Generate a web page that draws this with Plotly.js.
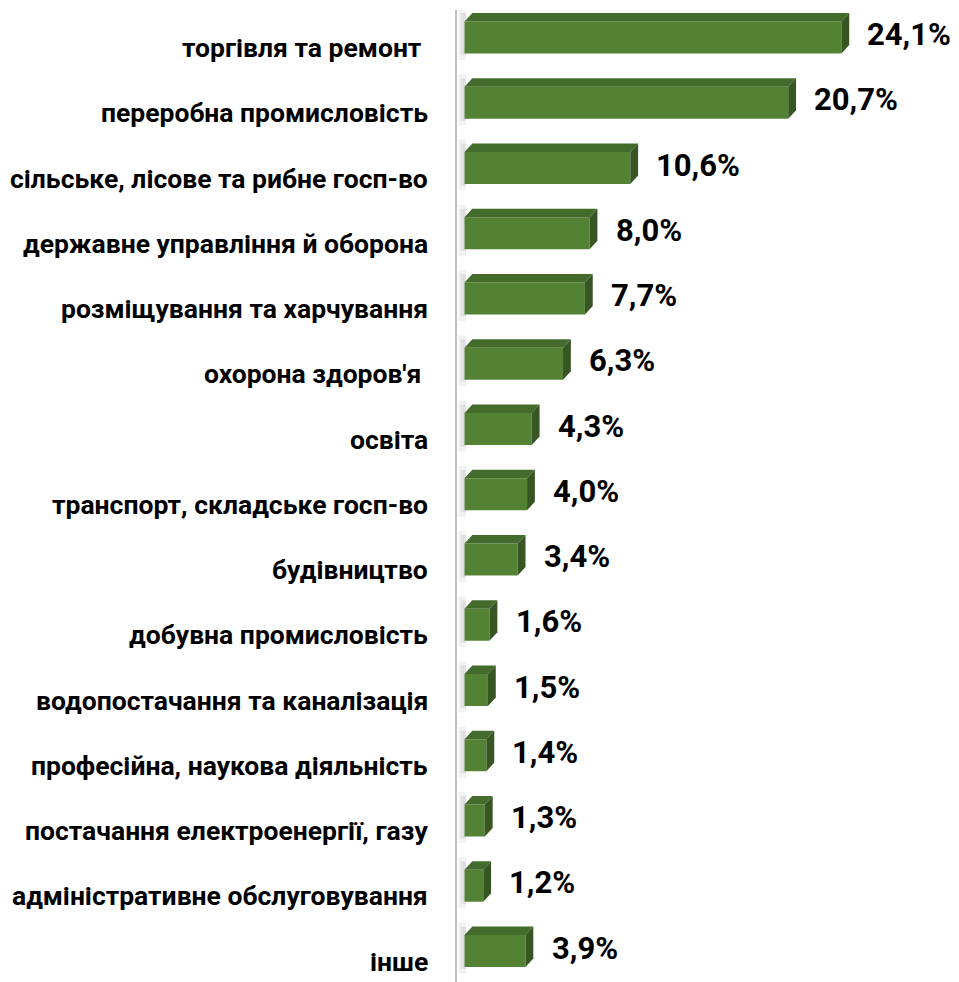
<!DOCTYPE html>
<html>
<head>
<meta charset="utf-8">
<script src="https://cdn.plot.ly/plotly-3.0.1.min.js"></script>
<style>html,body{margin:0;padding:0;background:#fff;}</style>
</head>
<body>
<div id="chart" style="width:959px;height:982px;"></div>
<script>
const categories = [
  "торгівля та ремонт\u00a0",
  "переробна промисловість",
  "сільське, лісове та рибне госп-во",
  "державне управління й оборона",
  "розміщування та харчування",
  "охорона здоров'я\u00a0",
  "освіта",
  "транспорт, складське госп-во",
  "будівництво",
  "добувна промисловість",
  "водопостачання та каналізація",
  "професійна, наукова діяльність",
  "постачання електроенергії, газу",
  "адміністративне обслуговування",
  "інше"
];
const values = [24.1, 20.7, 10.6, 8.0, 7.7, 6.3, 4.3, 4.0, 3.4, 1.6, 1.5, 1.4, 1.3, 1.2, 3.9];

const FRONT = '#548235', TOP = '#436b2b', SIDE = '#375623';
const BW = 0.49;      // bar thickness (category units)
const DX = 0.5;       // 3D depth along x (value units)
const DY = 0.13;      // 3D depth along y (category units)

const idx = categories.map((c, i) => i);

const shapes = [];
values.forEach((v, i) => {
  const t = i - BW / 2, b = i + BW / 2;
  // soft shadow to the left
  shapes.push({type:'rect', layer:'below', xref:'x', yref:'y', x0:-0.4, x1:0.1, y0:t - DY - 0.06, y1:b + 0.1,
    line:{width:0}, fillcolor:'rgba(0,0,0,0.05)'});
  shapes.push({type:'rect', layer:'below', xref:'x', yref:'y', x0:-0.25, x1:0.1, y0:t - DY, y1:b + 0.03,
    line:{width:0}, fillcolor:'rgba(0,0,0,0.07)'});
  // top face
  shapes.push({type:'path', xref:'x', yref:'y', line:{width:0}, fillcolor:TOP,
    path:`M0,${t} L${v},${t} L${v + DX},${t - DY} L${DX},${t - DY} Z`});
  // side face
  shapes.push({type:'path', xref:'x', yref:'y', line:{width:0}, fillcolor:SIDE,
    path:`M${v},${t} L${v + DX},${t - DY} L${v + DX},${b - DY} L${v},${b} Z`});
});

const annotations = [];
categories.forEach((c, i) => {
  annotations.push({xref:'paper', yref:'y', x:0, y:i, xanchor:'right', yanchor:'middle',
    xshift:-27, yshift:-10, showarrow:false, text:c,
    font:{family:'Roboto, sans-serif', size:26.5, color:'#000', weight:700}});
  annotations.push({xref:'x', yref:'y', x:values[i], y:i, xanchor:'left', yanchor:'middle',
    xshift:24, yshift:3, showarrow:false, text:values[i].toFixed(1).replace('.', ',') + '%',
    font:{family:'Roboto, sans-serif', size:31, color:'#000', weight:700}});
});

const trace = {
  type:'bar', orientation:'h', x:values, y:idx, width:BW,
  marker:{color:FRONT, line:{width:0}}, hoverinfo:'skip'
};

const layout = {
  width:959, height:982,
  margin:{l:457, r:0, t:10, b:0, pad:0},
  paper_bgcolor:'#fff', plot_bgcolor:'#fff',
  showlegend:false,
  xaxis:{range:[-0.48, 31.62], visible:false, showgrid:false, zeroline:false, fixedrange:true},
  yaxis:{range:[14.475, -0.4215], showgrid:false, zeroline:false, showticklabels:false, ticks:'',
    showline:true, linecolor:'#bfbfbf', linewidth:2, fixedrange:true},
  shapes:shapes,
  annotations:annotations
};

Plotly.newPlot('chart', [trace], layout, {staticPlot:true, displayModeBar:false});
</script>
</body>
</html>
